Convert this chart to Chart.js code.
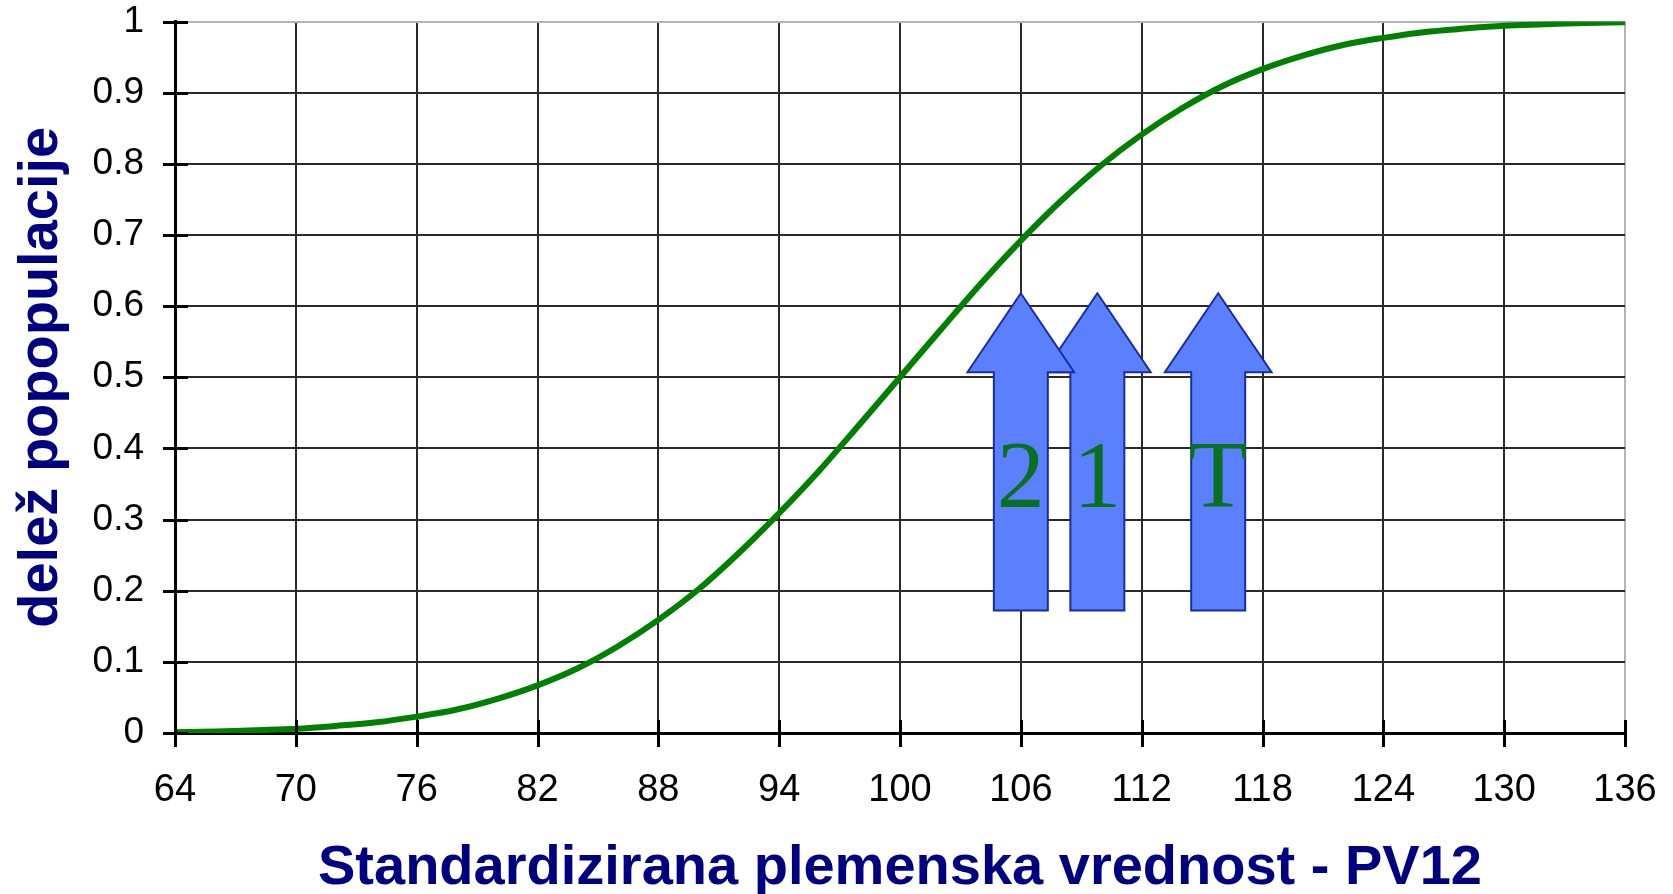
<!DOCTYPE html>
<html>
<head>
<meta charset="utf-8">
<script src="https://cdn.jsdelivr.net/npm/chart.js@4"></script>
<style>
  html, body { margin: 0; padding: 0; background: #fff; }
  #wrap { width: 1673px; height: 894px; }
</style>
</head>
<body>
<div id="wrap"><canvas id="c" width="1673" height="894"></canvas></div>
<script>
// ---- data ----
const pvValues = [64, 66, 68, 70, 72, 74, 76, 78, 80, 82, 84, 86, 88, 90, 92, 94, 96, 98, 100,
                  102, 104, 106, 108, 110, 112, 114, 116, 118, 120, 122, 124, 126, 128, 130, 132, 134, 136];
const shareValues = [0.001, 0.002, 0.004, 0.006, 0.010, 0.015, 0.023, 0.033, 0.048, 0.067, 0.091, 0.122, 0.159,
                     0.202, 0.253, 0.309, 0.369, 0.434, 0.500, 0.566, 0.631, 0.692, 0.748, 0.798, 0.841,
                     0.878, 0.909, 0.933, 0.952, 0.967, 0.977, 0.985, 0.990, 0.994, 0.996, 0.998, 0.999];
const xTickLabels = ['64', '70', '76', '82', '88', '94', '100', '106', '112', '118', '124', '130', '136'];
const yTickLabels = ['0', '0.1', '0.2', '0.3', '0.4', '0.5', '0.6', '0.7', '0.8', '0.9', '1'];
const arrowLabels = ['1', '2', 'T'];
const arrowPV = [109.8, 106.0, 115.8];
const arrowTopShare = 0.618;
const arrowHeadBaseShare = 0.507;
const arrowBottomShare = 0.172;
const arrowTextShare = 0.318;
const xTitle = 'Standardizirana plemenska vrednost - PV12';
const yTitle = 'delež popopulacije';

const points = pvValues.map((x, i) => ({ x: x, y: shareValues[i] }));

const crossTicks = {
  id: 'crossTicks',
  afterDraw(chart) {
    const ctx = chart.ctx;
    const xs = chart.scales.x, ys = chart.scales.y;
    const area = chart.chartArea;
    ctx.save();
    ctx.strokeStyle = '#000';
    ctx.lineWidth = 3;
    ys.ticks.forEach(t => {
      const y = Math.round(ys.getPixelForValue(t.value)) + 0.5;
      ctx.beginPath();
      ctx.moveTo(area.left - 12, y);
      ctx.lineTo(area.left + 13, y);
      ctx.stroke();
    });
    xs.ticks.forEach(t => {
      const x = Math.round(xs.getPixelForValue(t.value)) + 0.5;
      ctx.beginPath();
      ctx.moveTo(x, area.bottom - 13);
      ctx.lineTo(x, area.bottom + 14);
      ctx.stroke();
    });
    ctx.restore();
  }
};

const arrowsPlugin = {
  id: 'arrows',
  afterDatasetsDraw(chart, args, opts) {
    const ctx = chart.ctx;
    const xs = chart.scales.x, ys = chart.scales.y;
    const yTop = ys.getPixelForValue(arrowTopShare);
    const yHead = ys.getPixelForValue(arrowHeadBaseShare);
    const yBot = ys.getPixelForValue(arrowBottomShare);
    const yText = ys.getPixelForValue(arrowTextShare);
    ctx.save();
    arrowPV.forEach((pv, i) => {
      const cx = xs.getPixelForValue(pv);
      const sL = xs.getPixelForValue(pv - opts.shaftHalf);
      const sR = xs.getPixelForValue(pv + opts.shaftHalf);
      const hL = xs.getPixelForValue(pv - opts.headHalf);
      const hR = xs.getPixelForValue(pv + opts.headHalf);
      ctx.beginPath();
      ctx.moveTo(cx, yTop);
      ctx.lineTo(hR, yHead);
      ctx.lineTo(sR, yHead);
      ctx.lineTo(sR, yBot);
      ctx.lineTo(sL, yBot);
      ctx.lineTo(sL, yHead);
      ctx.lineTo(hL, yHead);
      ctx.closePath();
      ctx.fillStyle = opts.fill;
      ctx.fill();
      ctx.lineWidth = 2;
      ctx.lineJoin = 'miter';
      ctx.strokeStyle = opts.stroke;
      ctx.stroke();
      ctx.fillStyle = opts.textColor;
      ctx.font = opts.font;
      ctx.textAlign = 'center';
      ctx.textBaseline = 'alphabetic';
      ctx.fillText(arrowLabels[i], cx, yText);
    });
    ctx.restore();
  }
};

new Chart(document.getElementById('c'), {
  type: 'line',
  data: {
    datasets: [{
      data: points,
      borderColor: '#008000',
      borderWidth: 6,
      pointRadius: 0,
      fill: false,
      cubicInterpolationMode: 'monotone'
    }]
  },
  options: {
    responsive: false,
    animation: false,
    devicePixelRatio: 1,
    layout: { padding: { top: 20, right: 48, left: 0, bottom: 0 } },
    plugins: {
      legend: { display: false },
      tooltip: { enabled: false },
      arrows: {
        shaftHalf: 1.34,
        headHalf: 2.65,
        fill: '#5a80ff',
        stroke: '#1a2c9e',
        textColor: '#0a7020',
        font: '96px "Liberation Serif", "Times New Roman", serif'
      }
    },
    scales: {
      x: {
        type: 'linear',
        min: 64,
        max: 136,
        afterFit: (s) => { s.height = 161; },
        afterBuildTicks: (s) => { s.ticks = xTickLabels.map(v => ({ value: Number(v) })); },
        ticks: {
          callback: (v, i) => xTickLabels[i],
          color: '#000',
          font: { family: '"Liberation Sans", Arial, sans-serif', size: 38, lineHeight: 1.2 },
          padding: 3,
          maxRotation: 0,
          autoSkip: false
        },
        grid: {
          drawTicks: true,
          tickLength: 32,
          tickColor: 'rgba(0,0,0,0)',
          lineWidth: 2,
          color: (c) => (c.tick && c.tick.value === 136) ? '#b4b4b4' : '#2a2a2a'
        },
        border: { color: '#000', width: 3 },
        title: {
          display: true,
          text: xTitle,
          color: '#000080',
          font: { family: '"Liberation Sans", Arial, sans-serif', size: 56, weight: 'bold', lineHeight: 0.9 },
          padding: { top: 0, bottom: 0 }
        }
      },
      y: {
        type: 'linear',
        min: 0,
        max: 1,
        afterFit: (s) => { s.width = 175; },
        afterBuildTicks: (s) => { s.ticks = yTickLabels.map(v => ({ value: Number(v) })); },
        ticks: {
          callback: (v, i) => yTickLabels[i],
          color: '#000',
          font: { family: '"Liberation Sans", Arial, sans-serif', size: 37, lineHeight: 1.0 },
          padding: 3,
          autoSkip: false
        },
        grid: {
          drawTicks: true,
          tickLength: 28,
          tickColor: 'rgba(0,0,0,0)',
          lineWidth: 2,
          color: (c) => (c.tick && c.tick.value === 1) ? '#b4b4b4' : '#2a2a2a'
        },
        border: { color: '#000', width: 3 },
        title: {
          display: true,
          text: yTitle,
          color: '#000080',
          font: { family: '"Liberation Sans", Arial, sans-serif', size: 56, weight: 'bold', lineHeight: 1.2 },
          padding: { top: 8, bottom: 0 }
        }
      }
    }
  },
  plugins: [arrowsPlugin, crossTicks]
});
</script>
</body>
</html>
